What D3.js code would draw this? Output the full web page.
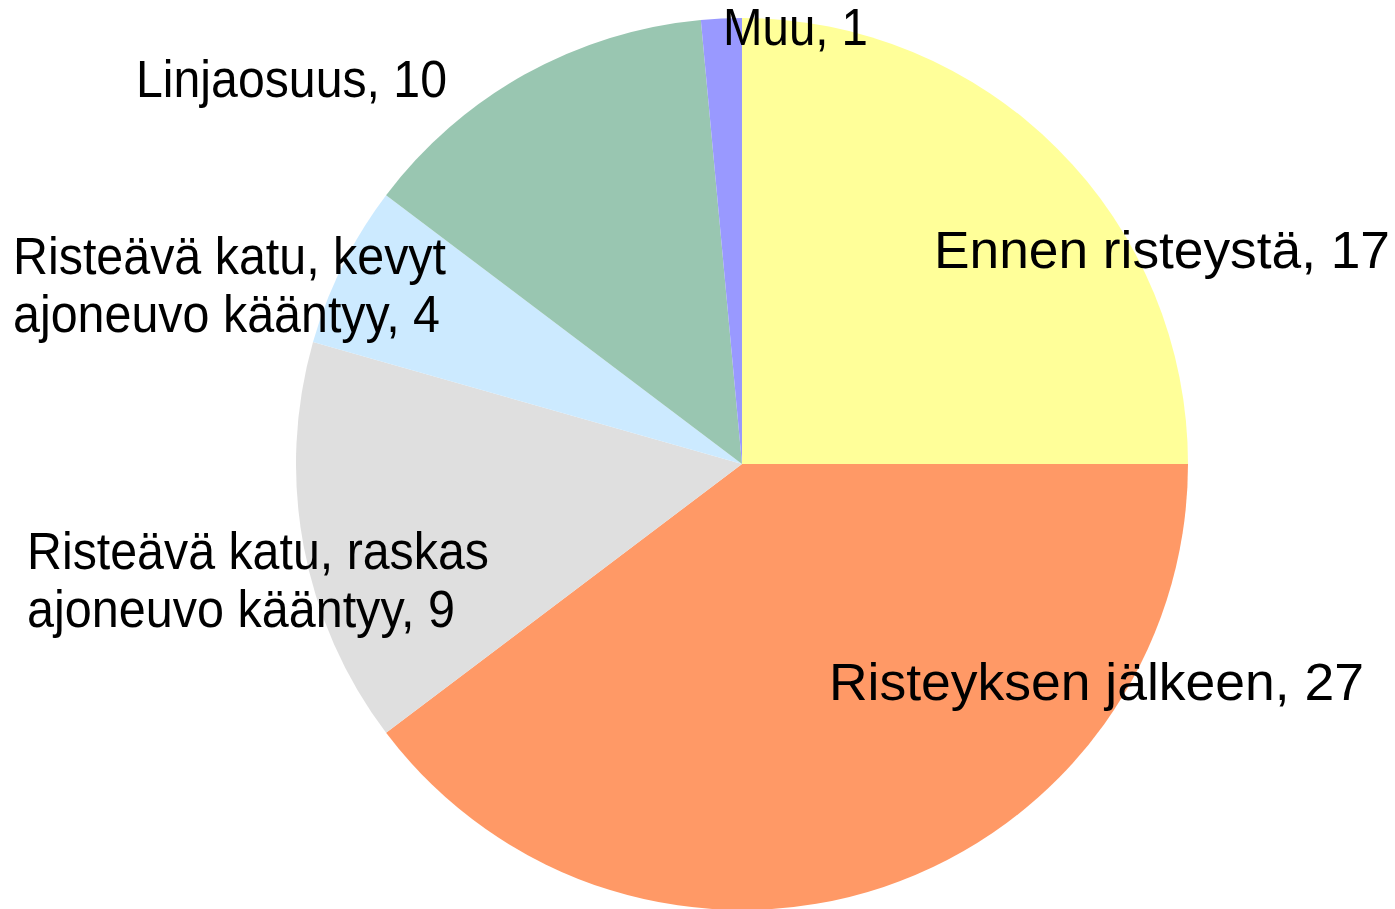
<!DOCTYPE html>
<html>
<head>
<meta charset="utf-8">
<script src="https://cdn.jsdelivr.net/npm/d3@7"></script>
<style>
  html, body { margin: 0; padding: 0; background: #fff; }
  svg { display: block; }
  .lbl { font-family: "Liberation Sans", Arial, sans-serif; font-size: 51px; fill: #000; }
</style>
</head>
<body>
<div id="chart"></div>
<script>
// data
var categories = [
    "Ennen risteystä",
    "Risteyksen jälkeen",
    "Risteävä katu, raskas ajoneuvo kääntyy",
    "Risteävä katu, kevyt ajoneuvo kääntyy",
    "Linjaosuus",
    "Muu"
];
// slice sizes as drawn in the picture
var values = [17, 27, 10, 4, 9, 1];
// numbers printed in the labels of the picture
var labelValues = [17, 27, 9, 4, 10, 1];

// how each category name breaks into lines
var nameLines = [
    ["Ennen risteystä"],
    ["Risteyksen jälkeen"],
    ["Risteävä katu, raskas", "ajoneuvo kääntyy"],
    ["Risteävä katu, kevyt", "ajoneuvo kääntyy"],
    ["Linjaosuus"],
    ["Muu"]
];

var colors = ["#ffff99", "#ff9966", "#dfdfdf", "#cceaff", "#99c6b1", "#9999ff"];

// layout
var width = 1395,
    height = 909,
    cx = 742,
    cy = 464,
    radius = 446,
    lineH = 58;

// label placement: left x, first baseline (relative to pie centre), line widths
var labelPos = [
    [192, -196, [456]],
    [87, 236, [535]],
    [-715, 105, [462, 428]],
    [-729, -190, [433, 427]],
    [-606, -367, [311]],
    [-19, -419, [145]]
];

var svg = d3.select("#chart")
    .append("svg")
    .attr("width", width)
    .attr("height", height);

var g = svg.append("g")
    .attr("transform", "translate(" + cx + "," + cy + ")");

var pie = d3.pie()
    .sort(null)
    .value(function (d) { return d; });

var arc = d3.arc()
    .outerRadius(radius)
    .innerRadius(0);

var slices = pie(values);

g.selectAll(".slice")
    .data(slices)
    .enter()
    .append("path")
    .attr("class", "slice")
    .attr("d", arc)
    .attr("fill", function (d, i) { return colors[i]; });

// labels
slices.forEach(function (d, i) {
    var lines = nameLines[i].slice();
    lines[lines.length - 1] += ", " + labelValues[i];
    lines.forEach(function (line, j) {
        g.append("text")
            .attr("class", "lbl")
            .attr("x", labelPos[i][0])
            .attr("y", labelPos[i][1] + j * lineH)
            .attr("textLength", labelPos[i][2][j])
            .attr("lengthAdjust", "spacingAndGlyphs")
            .text(line);
    });
});
</script>
</body>
</html>
